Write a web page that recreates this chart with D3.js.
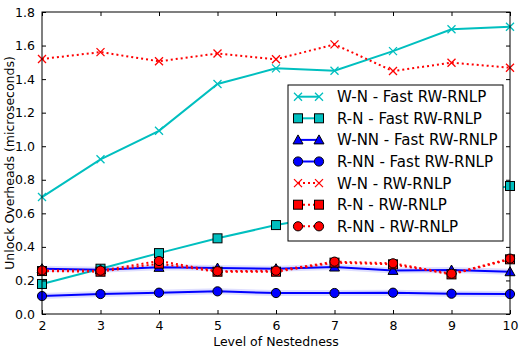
<!DOCTYPE html>
<html>
<head>
<meta charset="utf-8">
<script src="https://cdn.jsdelivr.net/npm/d3@7"></script>
<style>
  html, body { margin: 0; padding: 0; background: #fff; }
  svg { display: block; font-family: "DejaVu Sans", sans-serif; }
</style>
</head>
<body>
<svg id="chart" width="519" height="351"></svg>
<script>
// Nesting levels on the x axis
const levels = [2, 3, 4, 5, 6, 7, 8, 9, 10];

// Unlock overheads (microseconds) per series
const wnFast   = [0.697, 0.922, 1.092, 1.371, 1.464, 1.450, 1.567, 1.697, 1.712];
const rnFast   = [0.179, 0.270, 0.363, 0.451, 0.530, 0.590, 0.645, 0.700, 0.763];
const wnnFast  = [0.270, 0.264, 0.278, 0.274, 0.270, 0.280, 0.260, 0.262, 0.252];
const rnnFast  = [0.107, 0.119, 0.127, 0.135, 0.125, 0.125, 0.127, 0.121, 0.119];
const wnRw     = [1.520, 1.561, 1.506, 1.553, 1.518, 1.607, 1.448, 1.498, 1.468];
const rnRw     = [0.256, 0.252, 0.300, 0.252, 0.252, 0.306, 0.296, 0.236, 0.326];
const rnnRw    = [0.260, 0.258, 0.316, 0.255, 0.258, 0.312, 0.302, 0.240, 0.330];

const yTicks = [0.0, 0.2, 0.4, 0.6, 0.8, 1.0, 1.2, 1.4, 1.6, 1.8];
const xTicks = [2, 3, 4, 5, 6, 7, 8, 9, 10];

const CYAN = "#00bfbf", BLUE = "#0000ff", RED = "#ff0000";

const series = [
  { name: "W-N - Fast RW-RNLP",  values: wnFast,  color: CYAN, marker: "x",        dash: null, band: false },
  { name: "R-N - Fast RW-RNLP",  values: rnFast,  color: CYAN, marker: "square",   dash: null, band: false },
  { name: "W-NN - Fast RW-RNLP", values: wnnFast, color: BLUE, marker: "triangle", dash: null, band: true },
  { name: "R-NN - Fast RW-RNLP", values: rnnFast, color: BLUE, marker: "circle",   dash: null, band: true },
  { name: "W-N - RW-RNLP",       values: wnRw,    color: RED,  marker: "x",        dash: "2,3", band: false },
  { name: "R-N - RW-RNLP",       values: rnRw,    color: RED,  marker: "square",   dash: "2,3", band: false },
  { name: "R-NN - RW-RNLP",      values: rnnRw,   color: RED,  marker: "circle",   dash: "2,3", band: false }
];

const svg = d3.select("#chart");
const plot = { left: 42, right: 510, top: 12, bottom: 314 };

const x = d3.scaleLinear().domain([2, 10]).range([plot.left, plot.right]);
const y = d3.scaleLinear().domain([0, 1.8]).range([plot.bottom, plot.top]);

svg.append("defs").append("clipPath").attr("id", "plotclip")
  .append("rect")
  .attr("x", plot.left - 6).attr("y", plot.top - 6)
  .attr("width", plot.right - plot.left + 12).attr("height", plot.bottom - plot.top + 12);

function drawMarker(g, type, color, cx, cy) {
  if (type === "x") {
    const s = 4;
    g.append("path")
      .attr("d", `M${cx - s},${cy - s}L${cx + s},${cy + s}M${cx - s},${cy + s}L${cx + s},${cy - s}`)
      .attr("stroke", color).attr("stroke-width", 1.3).attr("fill", "none");
  } else if (type === "square") {
    g.append("rect")
      .attr("x", cx - 4.5).attr("y", cy - 4.5).attr("width", 9).attr("height", 9)
      .attr("fill", color).attr("stroke", "#000").attr("stroke-width", 1);
  } else if (type === "circle") {
    g.append("circle").attr("cx", cx).attr("cy", cy).attr("r", 4.6)
      .attr("fill", color).attr("stroke", "#000").attr("stroke-width", 1);
  } else if (type === "triangle") {
    const s = 5;
    g.append("path")
      .attr("d", `M${cx},${cy - s}L${cx + s},${cy + s * 0.8}L${cx - s},${cy + s * 0.8}Z`)
      .attr("fill", color).attr("stroke", "#000").attr("stroke-width", 1);
  }
}

const line = d3.line().x((d, i) => x(levels[i])).y(d => y(d));

const marks = svg.append("g").attr("clip-path", "url(#plotclip)");

series.forEach(s => {
  const g = marks.append("g");
  if (s.band) {
    // faint halo along the blue series
    g.append("path").datum(s.values).attr("d", line)
      .attr("fill", "none").attr("stroke", s.color)
      .attr("stroke-opacity", 0.13).attr("stroke-width", 6);
  }
  g.append("path").datum(s.values).attr("d", line)
    .attr("fill", "none").attr("stroke", s.color).attr("stroke-width", 2)
    .attr("stroke-dasharray", s.dash);
  s.values.forEach((v, i) => drawMarker(g, s.marker, s.color, x(levels[i]), y(v)));
});

// Frame
svg.append("rect")
  .attr("x", plot.left).attr("y", plot.top)
  .attr("width", plot.right - plot.left).attr("height", plot.bottom - plot.top)
  .attr("fill", "none").attr("stroke", "#000").attr("stroke-width", 1);

// Inward ticks on all four sides
const tickLen = 4;
const xb = d3.axisBottom(x).tickValues(xTicks).tickSizeInner(-tickLen).tickSizeOuter(0).tickPadding(7).tickFormat(d3.format("d"));
const xt = d3.axisTop(x).tickValues(xTicks).tickSizeInner(-tickLen).tickSizeOuter(0).tickFormat("");
const yl = d3.axisLeft(y).tickValues(yTicks).tickSizeInner(-tickLen).tickSizeOuter(0).tickPadding(7).tickFormat(d3.format(".1f"));
const yr = d3.axisRight(y).tickValues(yTicks).tickSizeInner(-tickLen).tickSizeOuter(0).tickFormat("");

function styleAxis(g) {
  g.select(".domain").remove();
  g.selectAll("line").attr("stroke", "#000");
  g.selectAll("text").attr("fill", "#000").style("font-size", "12.5px")
    .style("font-family", "DejaVu Sans, sans-serif");
}
svg.append("g").attr("transform", `translate(0,${plot.bottom})`).call(xb).call(styleAxis);
svg.append("g").attr("transform", `translate(0,${plot.top})`).call(xt).call(styleAxis);
svg.append("g").attr("transform", `translate(${plot.left},0)`).call(yl).call(styleAxis);
svg.append("g").attr("transform", `translate(${plot.right},0)`).call(yr).call(styleAxis);

// Axis titles
svg.append("text").attr("x", (plot.left + plot.right) / 2).attr("y", 346)
  .attr("text-anchor", "middle").style("font-size", "12.5px").text("Level of Nestedness");
svg.append("text")
  .attr("transform", `translate(14,${(plot.top + plot.bottom) / 2}) rotate(-90)`)
  .attr("text-anchor", "middle").style("font-size", "12.5px")
  .text("Unlock Overheads (microseconds)");

// Legend
const lg = svg.append("g");
const lx = 288, ly = 85, lw = 215, lh = 156;
lg.append("rect").attr("x", lx).attr("y", ly).attr("width", lw).attr("height", lh)
  .attr("fill", "#fff").attr("stroke", "#000").attr("stroke-width", 1);
series.forEach((s, i) => {
  const cy = 96.7 + i * 21.6;
  const x0 = 298, x1 = 319;
  lg.append("line").attr("x1", x0).attr("x2", x1).attr("y1", cy).attr("y2", cy)
    .attr("stroke", s.color).attr("stroke-width", 2).attr("stroke-dasharray", s.dash);
  drawMarker(lg, s.marker, s.color, x0, cy);
  drawMarker(lg, s.marker, s.color, x1, cy);
  lg.append("text").attr("x", 337).attr("y", cy).attr("dy", "0.36em")
    .style("font-size", "15px").text(s.name);
});
</script>
</body>
</html>
